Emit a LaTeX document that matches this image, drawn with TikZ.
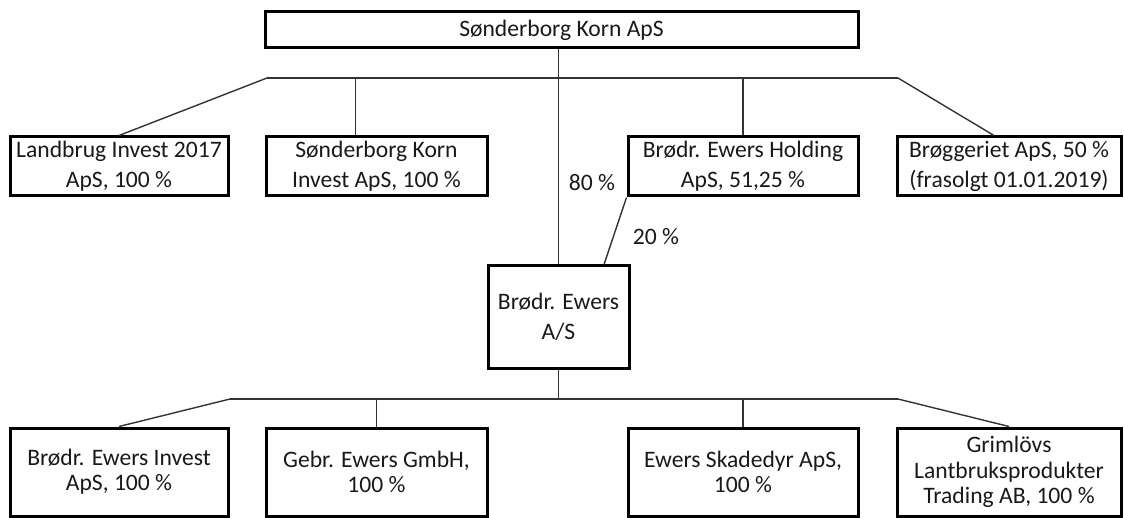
\documentclass[tikz,border=0pt]{standalone}
\usepackage{fontspec}
\setmainfont{Carlito}
\usepackage{xcolor}
\usepackage{tikz}

\begin{document}
\begin{tikzpicture}[x=0.5pt,y=-0.5pt,
  every node/.style={font=\fontsize{11.8}{14.8}\selectfont, text=black!90},
  firm/.style={rectangle, draw, line width=1.5pt, align=center, inner sep=0pt},
  lowfirm/.style={firm, font=\fontsize{11.8}{12.6}\selectfont},
  link/.style={draw=black!80, line width=0.7pt}]
\useasboundingbox (0,0) rectangle (1124,518);

\node[firm, minimum width=296.5pt, minimum height=18pt] (top) at (561.5,30) {Sønderborg Korn ApS};

\node[firm, minimum width=109pt, minimum height=29.5pt] (l1) at (119,166.5) {Landbrug Invest 2017\\ApS, 100 \%};
\node[firm, minimum width=110.5pt, minimum height=29.5pt] (l2) at (376.5,166.5) {Sønderborg Korn\\Invest ApS, 100 \%};
\node[firm, minimum width=115pt, minimum height=29.5pt] (l3) at (743,166.5) {Brødr. Ewers Holding\\ApS, 51,25 \%};
\node[firm, minimum width=112pt, minimum height=29.5pt] (l4) at (1009,166.5) {Brøggeriet ApS, 50 \%\\(frasolgt 01.01.2019)};

\node[firm, minimum width=70.5pt, minimum height=51pt] (ewers) at (558.5,317) {Brødr. Ewers\\A/S};

\node[lowfirm, minimum width=109pt, minimum height=44pt] (b1) at (119,472) {Brødr. Ewers Invest\\ApS, 100 \%};
\node[lowfirm, minimum width=110.5pt, minimum height=44pt] (b2) at (376.5,472) {Gebr. Ewers GmbH,\\100 \%};
\node[lowfirm, minimum width=115pt, minimum height=44pt] (b3) at (743,472) {Ewers Skadedyr ApS,\\100 \%};
\node[lowfirm, minimum width=112pt, minimum height=44pt] (b4) at (1009,472) {Grimlövs\\Lantbruksprodukter\\Trading AB, 100 \%};

\node (p80) at (592,183) {80 \%};
\node (p20) at (656,237) {20 \%};

\coordinate (bus1w) at (267,78);
\coordinate (bus1e) at (898,78);
\coordinate (bus2w) at (230,399);
\coordinate (bus2e) at (898,399);
\coordinate (l2in) at ([xshift=-10.5pt]l2.north);
\coordinate (l4in) at ([xshift=-7.5pt]l4.north);
\coordinate (ewin) at ([xshift=22.75pt]ewers.north);

% top level
\draw[link] (bus1w) -- (bus1e);
\draw[link] (bus1w) -- (l1.north);
\draw[link] (l2in |- bus1w) -- (l2in);
\draw[link] (l3.north |- bus1w) -- (l3.north);
\draw[link] (bus1e) -- (l4in);
\draw[link] (ewers.north |- top.south) -- (ewers.north);
\draw[link] (l3.south west) -- (ewin);

% under Ewers A/S
\draw[link] (ewers.south) -- (ewers.south |- bus2w);
\draw[link] (bus2w) -- (bus2e);
\draw[link] (bus2w) -- (b1.north);
\draw[link] (b2.north |- bus2w) -- (b2.north);
\draw[link] (b3.north |- bus2w) -- (b3.north);
\draw[link] (bus2e) -- (b4.north);
\end{tikzpicture}
\end{document}
